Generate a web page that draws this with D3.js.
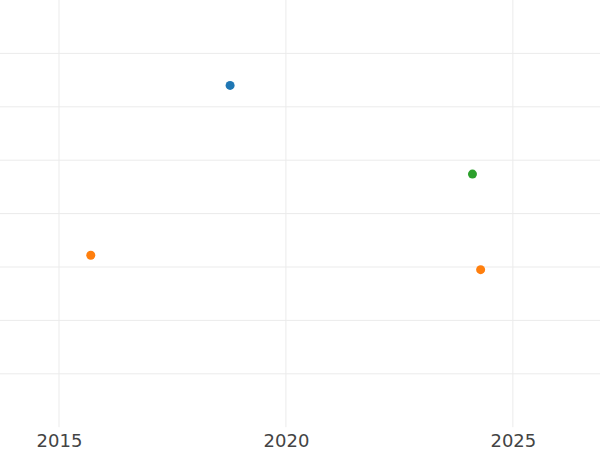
<!DOCTYPE html>
<html>
<head>
<meta charset="utf-8">
<script src="https://cdn.jsdelivr.net/npm/d3@7"></script>
<style>
  html, body { margin: 0; padding: 0; background: #fff; }
  svg { display: block; }
</style>
</head>
<body>
<svg id="chart" width="600" height="450"></svg>
<script>
// Data
const series = ["A", "B", "C"];
const colors = ["#1f77b4", "#ff7f0e", "#2ca02c"];
const pointSeries = ["A", "B", "B", "C"];
const pointYears = [2018.77, 2015.70, 2024.29, 2024.11];
const pointValues = [6.40, 3.22, 2.95, 4.74];
const xTickValues = [2015, 2020, 2025];
const yTickValues = [1, 2, 3, 4, 5, 6, 7];

const W = 600, H = 450;
const plotBottom = 427.2;

const svg = d3.select("#chart");

const x = d3.scaleLinear().domain([2013.70, 2026.92]).range([0, W]);
const y = d3.scaleLinear().domain([0, 8]).range([plotBottom, 0]);
const color = d3.scaleOrdinal().domain(series).range(colors);

// horizontal grid
svg.append("g")
  .selectAll("line")
  .data(yTickValues)
  .join("line")
  .attr("x1", 0).attr("x2", W)
  .attr("y1", d => y(d)).attr("y2", d => y(d))
  .attr("stroke", "#ebebeb").attr("stroke-width", 1);

// vertical grid
svg.append("g")
  .selectAll("line")
  .data(xTickValues)
  .join("line")
  .attr("x1", d => x(d)).attr("x2", d => x(d))
  .attr("y1", 0).attr("y2", plotBottom)
  .attr("stroke", "#ebebeb").attr("stroke-width", 1);

// x axis labels
const xAxis = d3.axisBottom(x).tickValues(xTickValues).tickFormat(d3.format("d")).tickSize(0).tickPadding(0);
const gx = svg.append("g").attr("transform", `translate(0,${plotBottom})`).call(xAxis);
gx.select(".domain").remove();
gx.selectAll("text")
  .attr("dy", null)
  .attr("y", 20)
  .attr("font-family", "DejaVu Sans, sans-serif")
  .attr("font-size", 18)
  .attr("fill", "#444");

// points
svg.append("g")
  .selectAll("circle")
  .data(pointYears.map((yr, i) => ({ yr, v: pointValues[i], s: pointSeries[i] })))
  .join("circle")
  .attr("cx", d => x(d.yr))
  .attr("cy", d => y(d.v))
  .attr("r", 4.5)
  .attr("fill", d => color(d.s));
</script>
</body>
</html>
